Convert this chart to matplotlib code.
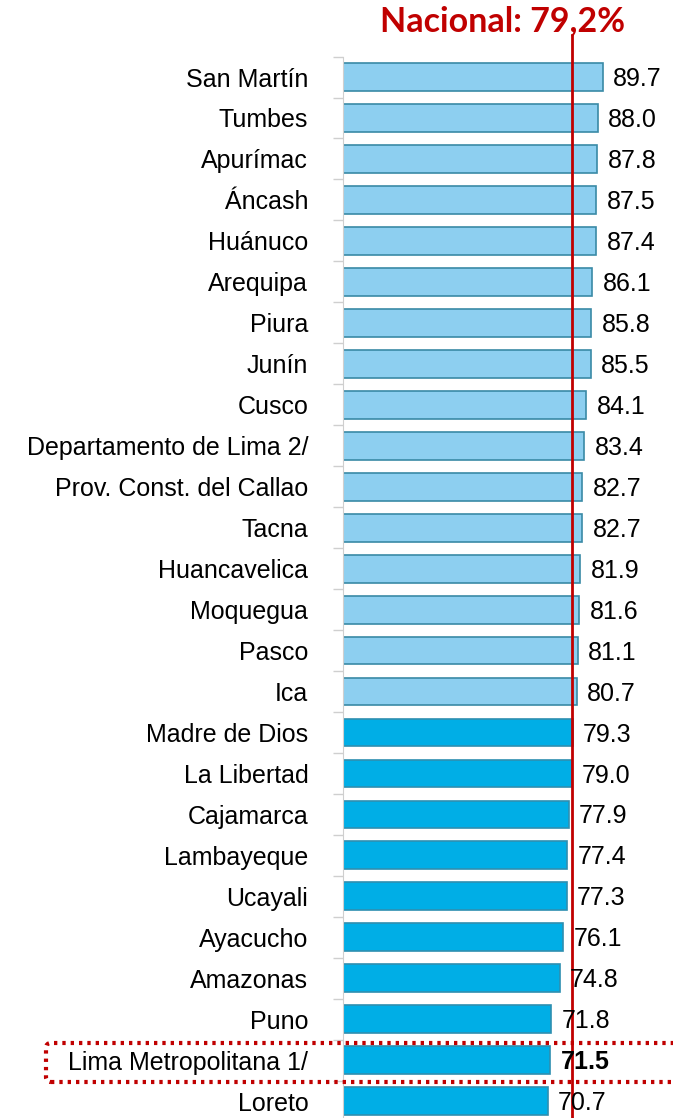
import matplotlib.pyplot as plt
from matplotlib.patches import FancyBboxPatch
from matplotlib.transforms import IdentityTransform

regiones = ['San Martín', 'Tumbes', 'Apurímac', 'Áncash', 'Huánuco', 'Arequipa',
            'Piura', 'Junín', 'Cusco', 'Departamento de Lima 2/',
            'Prov. Const. del Callao', 'Tacna', 'Huancavelica', 'Moquegua',
            'Pasco', 'Ica', 'Madre de Dios', 'La Libertad', 'Cajamarca',
            'Lambayeque', 'Ucayali', 'Ayacucho', 'Amazonas', 'Puno',
            'Lima Metropolitana 1/', 'Loreto']
valores = [89.7, 88.0, 87.8, 87.5, 87.4, 86.1, 85.8, 85.5, 84.1, 83.4, 82.7,
           82.7, 81.9, 81.6, 81.1, 80.7, 79.3, 79.0, 77.9, 77.4, 77.3, 76.1,
           74.8, 71.8, 71.5, 70.7]
nacional = 79.2
destacado = 'Lima Metropolitana 1/'

plt.rcParams['font.family'] = ['Liberation Sans', 'DejaVu Sans']

fig = plt.figure(figsize=(6.73, 11.18), dpi=100)
ax = fig.add_axes([343 / 673, 0.0, 330 / 673, 1.0])

n = len(regiones)
ys = list(range(n))
colores = ['#8DCFF0' if v > 80 else '#00AEE6' for v in valores]
bordes = ['#3A8AA6' if v > 80 else '#2E8FB0' for v in valores]
ax.barh(ys, valores, height=0.68, color=colores, edgecolor=bordes, linewidth=1.2, zorder=2)

for y, v, r in zip(ys, valores, regiones):
    ax.text(v + 3.6, y + 0.05, f'{v:.1f}', va='center', ha='left', fontsize=18,
            fontweight='bold' if r == destacado else 'normal', zorder=4)

ax.set_xlim(0, 114)
ax.set_ylim(25.41, -1.88)
ax.set_yticks(ys)
ax.set_yticklabels(regiones, fontsize=18)
ax.tick_params(axis='y', which='major', length=0, pad=25)
ax.set_yticks([y + 0.5 for y in ys[:-1]] + [-0.5], minor=True)
ax.tick_params(axis='y', which='minor', length=7, color='#CFCFCF', width=1)
ax.set_xticks([])
for s in ['top', 'right', 'bottom']:
    ax.spines[s].set_visible(False)
ax.spines['left'].set_color('#CFCFCF')
ax.spines['left'].set_bounds(-0.5, 25.41)

ax.plot([nacional, nacional], [-1.03, 25.41], color='#C00000', lw=2, zorder=3)
fig.text(502 / 673, 1 - 21 / 1118, 'Nacional: 79,2%', color='#C00000', fontsize=24.5,
         fontweight='bold', ha='center', va='center', family=['Lato', 'DejaVu Sans'])

# recuadro punteado de Lima Metropolitana (en pixeles)
rect = FancyBboxPatch((46, 1118 - 1082), 660, 39, boxstyle='round,pad=0,rounding_size=5',
                      transform=IdentityTransform(), fill=False, edgecolor='#C00000',
                      linestyle=(0, (0.8, 1.2)), linewidth=3, clip_on=False, zorder=5)
fig.patches.append(rect)

fig.savefig('out.png', dpi=100)
